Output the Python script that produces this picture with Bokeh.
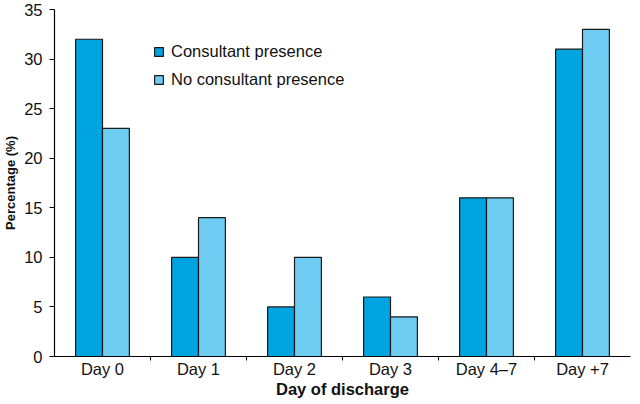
from bokeh.plotting import figure
from bokeh.models import ColumnDataSource, FixedTicker, Legend, LegendItem, Range1d
from bokeh.embed import file_html
from bokeh.resources import INLINE

categories = ["Day 0", "Day 1", "Day 2", "Day 3", "Day 4\u20137", "Day +7"]
consultant = [32, 10, 5, 6, 16, 31]
no_consultant = [23, 14, 10, 4, 16, 33]
y_ticks = [0, 5, 10, 15, 20, 25, 30, 35]

FONT = "Liberation Sans"
DARK = "#00A4E0"
LIGHT = "#6ECBF1"

centers = [i + 0.5 for i in range(len(categories))]
src = ColumnDataSource(dict(
    xc=[c - 0.14 for c in centers], xn=[c + 0.14 for c in centers],
    consultant=consultant, no_consultant=no_consultant,
))

p = figure(width=632, height=400, output_backend="svg", toolbar_location=None,
           x_range=Range1d(0, len(categories)), y_range=Range1d(0, 35),
           min_border_left=47, min_border_right=2, min_border_top=9, min_border_bottom=40)
p.outline_line_color = None
p.xgrid.visible = False
p.ygrid.visible = False
p.background_fill_color = "white"

r1 = p.vbar(x="xc", top="consultant", width=0.28, source=src, fill_color=DARK,
            line_color="#1a1a1a", line_width=1.2)
r2 = p.vbar(x="xn", top="no_consultant", width=0.28, source=src, fill_color=LIGHT,
            line_color="#1a1a1a", line_width=1.2)

# x axis: labels at centers, small ticks at category boundaries
p.xaxis.ticker = FixedTicker(ticks=centers, minor_ticks=list(range(1, len(categories))))
p.xaxis.major_label_overrides = {c: lab for c, lab in zip(centers, categories)}
p.xaxis.major_tick_out = 0
p.xaxis.major_tick_in = 0
p.xaxis.minor_tick_out = 4
p.xaxis.minor_tick_in = 0
p.xaxis.minor_tick_line_color = "black"
p.xaxis.axis_label = "Day of discharge"
p.xaxis.major_label_standoff = -1
p.xaxis.axis_label_standoff = -1
p.xaxis.axis_label_text_font_size = "16.5px"

p.yaxis.ticker = FixedTicker(ticks=y_ticks)
p.yaxis.minor_tick_line_color = None
p.yaxis.major_tick_out = 5
p.yaxis.major_tick_in = 0
p.yaxis.axis_label = "Percentage (%)"
p.yaxis.major_label_standoff = 7
p.yaxis.axis_label_standoff = 3
p.yaxis.axis_label_text_font_size = "13px"

for ax in (p.xaxis, p.yaxis):
    ax.axis_line_color = "black"
    ax.axis_line_width = 1.2
    ax.major_tick_line_color = "black"
    ax.major_label_text_font = FONT
    ax.major_label_text_font_size = "16.5px"
    ax.major_label_text_color = "#111111"
    ax.axis_label_text_font = FONT
    ax.axis_label_text_font_style = "bold"
    ax.axis_label_text_color = "#111111"

legend = Legend(items=[LegendItem(label="Consultant presence", renderers=[r1]),
                       LegendItem(label="No consultant presence", renderers=[r2])],
                location=(99, 267), padding=0, margin=0, spacing=8,
                glyph_width=11, glyph_height=11, label_height=20, label_standoff=7,
                label_text_font=FONT, label_text_font_size="16.5px",
                label_text_color="#111111",
                border_line_color=None, background_fill_alpha=0)
p.add_layout(legend, "center")

open("out.html", "w").write(file_html(p, INLINE))
